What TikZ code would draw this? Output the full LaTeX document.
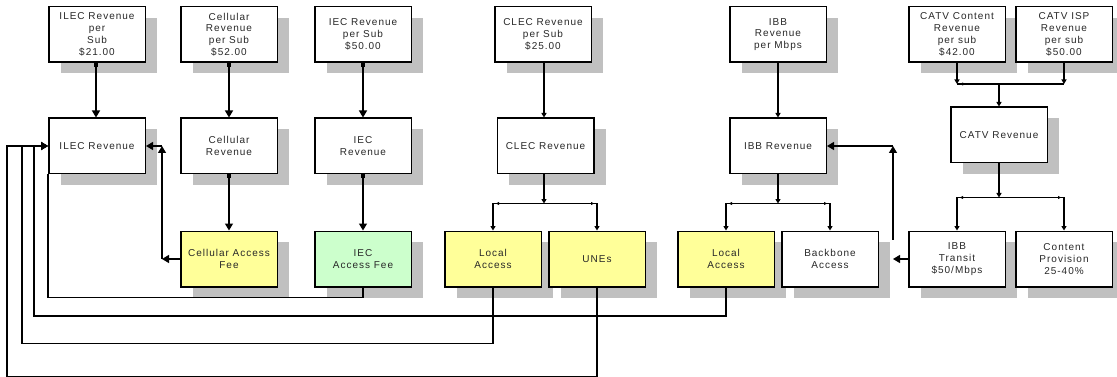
\documentclass[tikz,border=0pt]{standalone}
\usepackage{fontspec}
\setmainfont[LetterSpace=10]{Liberation Sans}
\usepackage{xcolor}
\usepackage{tikz}
\usetikzlibrary{arrows.meta, calc, shadows}
\definecolor{feeyellow}{RGB}{255, 255, 153}
\definecolor{feegreen}{RGB}{204, 255, 204}
\definecolor{shade}{RGB}{192, 192, 192}
\definecolor{ink}{RGB}{40, 40, 40}
\tikzstyle{block} = [rectangle, draw=black, line width=1.5pt, fill=white, minimum width=96.5pt, minimum height=55.5pt, inner sep=1pt, align=center, text=ink, font=\fontsize{10}{11.8}\selectfont, drop shadow={shadow xshift=12pt, shadow yshift=-11pt, fill=shade, opacity=1}]
\tikzstyle{yellowblock} = [block, fill=feeyellow]
\tikzstyle{greenblock} = [block, fill=feegreen]
\tikzstyle{conn} = [line width=1.2pt]
\tikzstyle{arrow} = [conn, -{Triangle[length=7pt,width=8pt]}]
\tikzstyle{sarrow} = [conn, -{Triangle[length=4.5pt,width=5pt]}]
\tikzstyle{tarrow} = [conn, -{Triangle[length=3pt,width=3pt]}]
\tikzstyle{dotarrow} = [conn, {Square[length=4pt,width=4pt]}-{Triangle[length=7pt,width=8pt]}]

\begin{document}
\begin{tikzpicture}[x=1pt, y=-1pt]
    \useasboundingbox (0,0) rectangle (1117,377);

    % Revenue per sub
    \node[block] (ilecsub) at (97, 34.5) {ILEC Revenue\\per\\Sub\\\$21.00};
    \node[block] (cellsub) at (229, 34.5) {Cellular\\Revenue\\per Sub\\\$52.00};
    \node[block] (iecsub) at (363, 34.5) {IEC Revenue\\per Sub\\\$50.00};
    \node[block] (clecsub) at (543, 34.5) {CLEC Revenue\\per Sub\\\$25.00};
    \node[block] (ibbsub) at (778, 34.5) {IBB\\Revenue\\per Mbps};
    \node[block] (catvcon) at (957, 34.5) {CATV Content\\Revenue\\per sub\\\$42.00};
    \node[block] (catvisp) at (1064, 34.5) {CATV ISP\\Revenue\\per sub\\\$50.00};

    % Revenue
    \node[block] (ilecrev) at (97, 146) {ILEC Revenue};
    \node[block] (cellrev) at (229, 146) {Cellular\\Revenue};
    \node[block] (iecrev) at (363, 146) {IEC\\Revenue};
    \node[block] (clecrev) at (545.5, 146) {CLEC Revenue};
    \node[block] (ibbrev) at (778, 146) {IBB Revenue};
    \node[block] (catvrev) at (999, 135) {CATV Revenue};

    % Fees and access
    \node[yellowblock] (cellfee) at (229, 259) {Cellular Access\\Fee};
    \node[greenblock] (iecfee) at (363, 259) {IEC\\Access Fee};
    \node[yellowblock] (clecloc) at (493, 259) {Local\\Access};
    \node[yellowblock] (unes) at (597, 259) {UNEs};
    \node[yellowblock] (ibbloc) at (726, 259) {Local\\Access};
    \node[block] (backbone) at (830, 259) {Backbone\\Access};
    \node[block] (transit) at (957, 259) {IBB\\Transit\\\$50/Mbps};
    \node[block] (content) at (1064, 259) {Content\\Provision\\25-40\%};

    % Per sub to revenue
    \draw[dotarrow] (ilecsub.south -| 96,0) -- (ilecrev.north -| 96,0);
    \draw[dotarrow] (cellsub.south) -- (cellrev.north);
    \draw[dotarrow] (iecsub.south) -- (iecrev.north);
    \draw[sarrow] (clecsub.south -| 544,0) -- (clecrev.north -| 544,0);
    \draw[sarrow] (ibbsub.south) -- (ibbrev.north);

    % Cellular and IEC
    \draw[dotarrow] (cellrev.south) -- (cellfee.north);
    \draw[dotarrow] (iecrev.south) -- (iecfee.north);
    \draw[arrow] (cellfee.west) -- ++(-18,0) coordinate (cfbend);
    \draw[arrow] (cfbend) -- (cfbend |- ilecrev.east);
    \draw[arrow] (cfbend |- ilecrev.east) -- (ilecrev.east);
    \draw[conn] (iecfee.south) -- ++(0,10) -| (ilecrev.south west);

    % CLEC split
    \draw[sarrow] (clecrev.south -| 544,0) -- ++(0,29) coordinate (clecsplit);
    \draw[tarrow, shorten >=3pt] (clecsplit) -- (clecsplit -| clecloc.north);
    \draw[tarrow, shorten >=3pt] (clecsplit) -- (clecsplit -| unes.north);
    \draw[sarrow] (clecsplit) -| (clecloc.north);
    \draw[sarrow] (clecsplit) -| (unes.north);

    % IBB split
    \draw[sarrow] (ibbrev.south) -- ++(0,29) coordinate (ibbsplit);
    \draw[tarrow, shorten >=3pt] (ibbsplit) -- (ibbsplit -| ibbloc.north);
    \draw[tarrow, shorten >=3pt] (ibbsplit) -- (ibbsplit -| backbone.north);
    \draw[sarrow] (ibbsplit) -| (ibbloc.north);
    \draw[sarrow] (ibbsplit) -| (backbone.north);

    % Back to ILEC revenue
    \draw[arrow] (ibbloc.south) -- ++(0,28.5) -| ([xshift=-14pt]ilecrev.west) -- (ilecrev.west);
    \draw[arrow] (clecloc.south) -- ++(0,56) -| ([xshift=-26pt]ilecrev.west) -- (ilecrev.west);
    \draw[arrow] (unes.south) -- ++(0,89) -| ([xshift=-41pt]ilecrev.west) -- (ilecrev.west);

    % CATV
    \draw[sarrow] (catvcon.south) -- ++(0,21) coordinate (conbar);
    \draw[sarrow] (catvisp.south) -- ++(0,21) coordinate (ispbar);
    \draw[conn] (conbar) -- (ispbar);
    \draw[tarrow, shorten >=3pt] (conbar -| catvrev.north) -- (conbar);
    \draw[sarrow] (conbar -| catvrev.north) -- (catvrev.north);
    \draw[sarrow] (catvrev.south) -- ++(0,34) coordinate (catvsplit);
    \draw[tarrow, shorten >=3pt] (catvsplit) -- (catvsplit -| transit.north);
    \draw[tarrow, shorten >=3pt] (catvsplit) -- (catvsplit -| content.north);
    \draw[sarrow] (catvsplit) -| (transit.north);
    \draw[sarrow] (catvsplit) -| (content.north);

    % Transit and backbone
    \draw[arrow] (transit.west) -- ++(-15,0);
    \draw[arrow] ([xshift=14pt,yshift=-9pt]backbone.north east) coordinate (bbup) -- (bbup |- ibbrev.east);
    \draw[arrow] (bbup |- ibbrev.east) -- (ibbrev.east);
\end{tikzpicture}
\end{document}
